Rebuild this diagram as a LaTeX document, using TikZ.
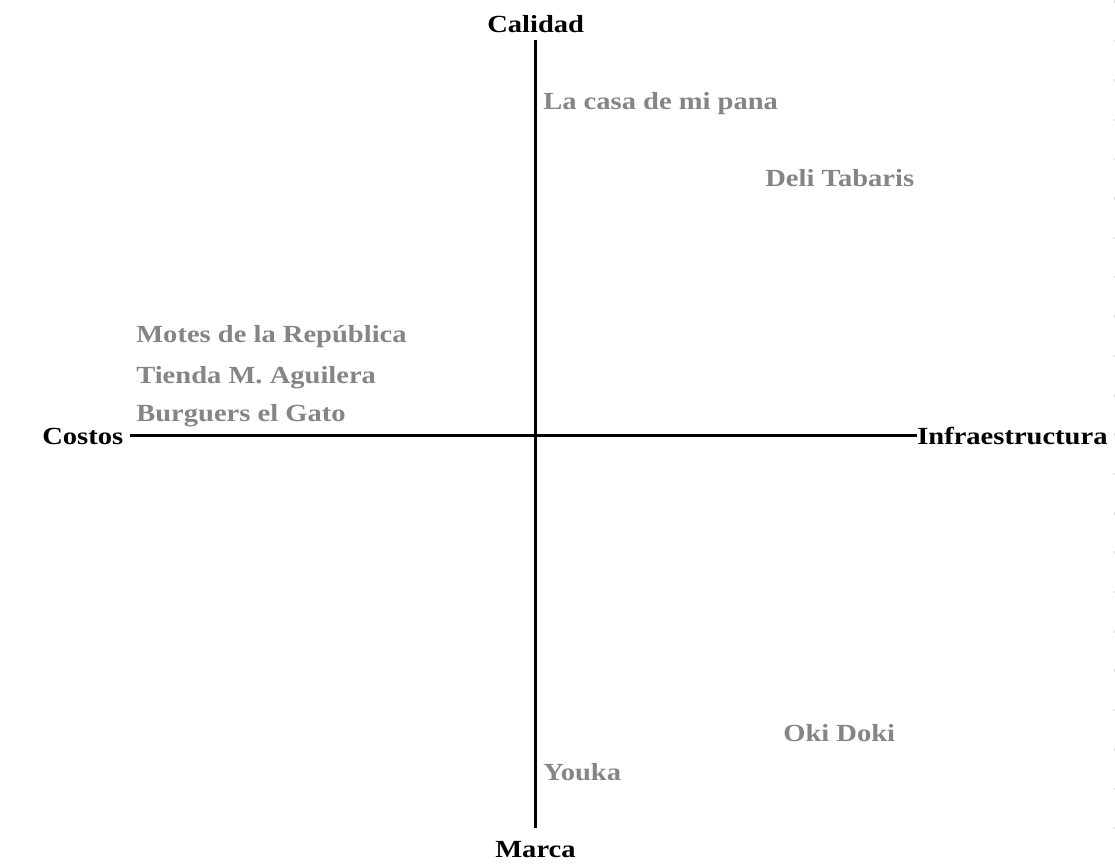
\documentclass[tikz,border=0pt]{standalone}
\usepackage{fontspec}
\setmainfont{Liberation Serif}
\newfontfamily\mapfont[FakeStretch=1.16]{Liberation Serif}
\usepackage{tikz}
\usetikzlibrary{calc}
\usepackage{xcolor}
\definecolor{brandgray}{HTML}{858585}
\definecolor{dotgray}{HTML}{DADADA}

\begin{document}
\begin{tikzpicture}[
    x=0.025cm, y=-0.025cm,
    axislabel/.style={
      font=\mapfont\fontsize{17.5}{20}\selectfont\bfseries, text=black,
      inner sep=0pt, anchor=base west,
    },
    brand/.style={
      font=\mapfont\fontsize{17.5}{20}\selectfont\bfseries, text=brandgray,
      inner sep=0pt, anchor=base west,
    },
    axisline/.style={line width=2.1pt, black},
  ]

  % Canvas: 1115 x 865 px, y grows downward
  \useasboundingbox (0,0) rectangle (1115,865);

  % =================== Axis labels ===================
  \node[axislabel] (calidad) at (487, 33) {Calidad};
  \node[axislabel] (marca) at (495, 857) {Marca};
  \node[axislabel] (costos) at (42, 444) {Costos};
  \node[axislabel] (infra) at (917, 444) {Infraestructura};

  % =================== Axes ===================
  \coordinate (vtop) at (535.8, 40);
  \coordinate (vbot) at (535.8, 828);
  \coordinate (hleft) at (130, 435.7);
  \draw[axisline] (vtop) -- (vbot);
  \draw[axisline] (hleft) -- (hleft -| infra.west);

  % =================== Brands ===================
  \node[brand] (casa) at (543, 110) {La casa de mi pana};
  \node[brand] (deli) at (765, 187) {Deli Tabaris};
  \node[brand] (motes) at (136, 343) {Motes de la República};
  \node[brand] (tienda) at (136, 383) {Tienda M. Aguilera};
  \node[brand] (burguers) at (136, 421) {Burguers el Gato};
  \node[brand] (oki) at (783, 741) {Oki Doki};
  \node[brand] (youka) at (543, 780) {Youka};

  % Faint tick dots on the right edge
  \foreach \k in {0,...,21}
    \fill[dotgray] (1113.8, {0.5+\k*39.35}) rectangle ++(1, 2.5);

\end{tikzpicture}
\end{document}
